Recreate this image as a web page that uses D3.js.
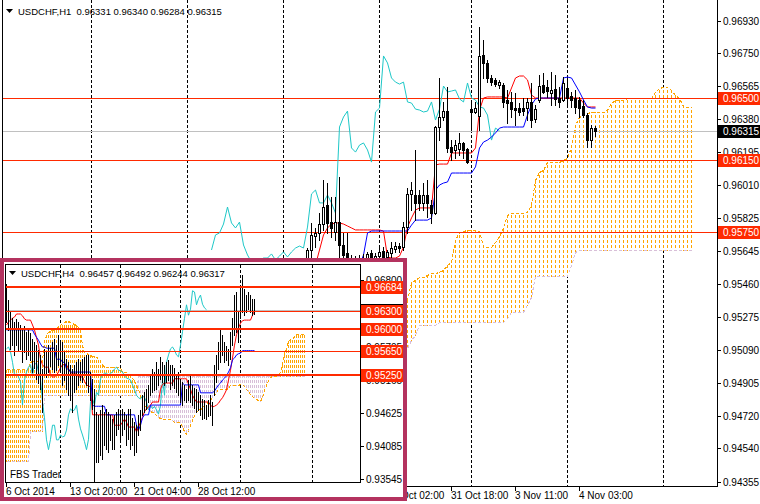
<!DOCTYPE html>
<html><head><meta charset="utf-8">
<script src="https://cdn.jsdelivr.net/npm/d3@7"></script>
<style>html,body{margin:0;padding:0;background:#fff;}svg{display:block;font-family:"Liberation Sans",Arial,sans-serif;}</style>
</head><body><svg id="chart" width="760" height="504"></svg>
<script>
// ================= MAIN CHART DATA (USDCHF, H1) =================
const mainTitle = "USDCHF,H1  0.96331 0.96340 0.96284 0.96315";
const mainOpen = [0.95582,0.95649,0.95727,0.95744,0.95794,0.95900,0.95805,0.95750,0.95805,0.95677,
0.95632,0.95582,0.95582,0.95593,0.95604,0.95582,0.95632,0.95593,0.95615,0.95643,
0.95610,0.95632,0.95654,0.95671,0.95665,0.95777,0.95962,0.95956,0.95956,0.95912,
0.95956,0.95900,0.95855,0.96336,0.96392,0.96425,0.96224,0.96208,0.96213,0.96247,
0.96213,0.96436,0.96420,0.96397,0.96738,0.96694,0.96610,0.96599,0.96571,0.96571,
0.96487,0.96476,0.96442,0.96442,0.96442,0.96442,0.96476,0.96381,0.96487,0.96571,
0.96560,0.96526,0.96548,0.96498,0.96487,0.96554,0.96509,0.96498,0.96487,0.96453,
0.96403,0.96263,0.96331];
const mainHigh = [0.95660,0.95800,0.95772,0.95855,0.96040,0.96023,0.95945,0.95945,0.96057,0.95744,
0.95744,0.95621,0.95615,0.95621,0.95627,0.95638,0.95649,0.95632,0.95660,0.95665,
0.95649,0.95693,0.95693,0.95688,0.95805,0.95995,0.96029,0.96208,0.95984,0.96023,
0.96040,0.95928,0.96342,0.96610,0.96476,0.96560,0.96263,0.96263,0.96303,0.96252,
0.96219,0.96476,0.96476,0.96895,0.96822,0.96710,0.96627,0.96610,0.96599,0.96582,
0.96543,0.96532,0.96526,0.96470,0.96498,0.96498,0.96582,0.96459,0.96627,0.96638,
0.96599,0.96643,0.96627,0.96560,0.96615,0.96610,0.96532,0.96543,0.96504,0.96487,
0.96414,0.96347,0.96340];
const mainLow = [0.95560,0.95610,0.95665,0.95705,0.95761,0.95744,0.95721,0.95705,0.95610,0.95582,
0.95548,0.95537,0.95548,0.95571,0.95565,0.95560,0.95571,0.95571,0.95593,0.95582,
0.95582,0.95593,0.95638,0.95638,0.95649,0.95744,0.95872,0.95816,0.95872,0.95872,
0.95833,0.95800,0.95850,0.96263,0.96375,0.96196,0.96152,0.96163,0.96180,0.96163,
0.96135,0.96319,0.96414,0.96319,0.96610,0.96587,0.96571,0.96565,0.96554,0.96448,
0.96358,0.96392,0.96347,0.96403,0.96403,0.96375,0.96336,0.96364,0.96476,0.96526,
0.96504,0.96459,0.96459,0.96448,0.96481,0.96448,0.96448,0.96414,0.96392,0.96392,
0.96224,0.96224,0.96284];
const mainClose = [0.95649,0.95733,0.95744,0.95794,0.95889,0.95800,0.95772,0.95805,0.95677,0.95621,
0.95582,0.95582,0.95593,0.95604,0.95604,0.95627,0.95593,0.95615,0.95638,0.95610,
0.95638,0.95660,0.95671,0.95660,0.95777,0.95962,0.95984,0.95912,0.95912,0.95956,
0.95912,0.95855,0.96336,0.96392,0.96425,0.96219,0.96196,0.96235,0.96247,0.96208,
0.96140,0.96420,0.96442,0.96733,0.96694,0.96610,0.96587,0.96576,0.96587,0.96476,
0.96470,0.96436,0.96431,0.96420,0.96425,0.96476,0.96375,0.96436,0.96565,0.96532,
0.96537,0.96543,0.96493,0.96476,0.96582,0.96498,0.96487,0.96448,0.96442,0.96403,
0.96263,0.96330,0.96315];
// Tenkan-sen from bar 2, Kijun-sen from bar 13, Senkou spans from bar 24
const mainTenkanStart = 2;
const mainTenkan = [0.95565,0.95649,0.95733,0.95772,0.95794,0.95800,0.95800,0.95794,0.95783,0.95772,
0.95761,0.95761,0.95761,0.95761,0.95761,0.95761,0.95761,0.95755,0.95610,0.95604,
0.95604,0.95615,0.95665,0.95777,0.95828,0.95872,0.95884,0.95884,0.95884,0.95884,
0.96124,0.96129,0.96129,0.96129,0.96191,0.96191,0.96191,0.96191,0.96191,0.96191,
0.96219,0.96431,0.96498,0.96504,0.96504,0.96504,0.96504,0.96504,0.96498,0.96554,
0.96610,0.96621,0.96621,0.96599,0.96515,0.96498,0.96498,0.96498,0.96498,0.96498,
0.96498,0.96498,0.96498,0.96498,0.96498,0.96498,0.96498,0.96470,0.96448,0.96448,0.96448];
const mainKijunStart = 13;
const mainKijun = [0.95565,0.95621,0.95744,0.95755,0.95755,0.95755,0.95755,0.95755,0.95755,0.95755,
0.95755,0.95755,0.95755,0.95788,0.95816,0.95816,0.95816,0.95816,0.95828,0.95984,
0.96012,0.96023,0.96029,0.96079,0.96079,0.96079,0.96079,0.96079,0.96079,0.96113,
0.96219,0.96252,0.96263,0.96280,0.96303,0.96330,0.96336,0.96336,0.96336,0.96336,
0.96336,0.96336,0.96403,0.96459,0.96493,0.96498,0.96498,0.96498,0.96498,0.96498,
0.96498,0.96610,0.96615,0.96610,0.96571,0.96532,0.96487,0.96448,0.96442,0.96442];
const mainChikouShift = 24;
const mainSpanStart = 24;
const mainSpanA = [0.95353,0.95369,0.95470,0.95481,0.95498,0.95498,0.95509,0.95520,0.95520,0.95526,
0.95537,0.95565,0.95582,0.95705,0.95750,0.95755,0.95761,0.95761,0.95761,0.95755,
0.95671,0.95665,0.95665,0.95693,0.95727,0.95772,0.95844,0.95855,0.95855,0.95855,
0.95855,0.95861,0.95900,0.96040,0.96085,0.96096,0.96140,0.96140,0.96140,0.96140,
0.96152,0.96163,0.96224,0.96347,0.96392,0.96403,0.96414,0.96420,0.96420,0.96420,
0.96420,0.96431,0.96470,0.96487,0.96487,0.96487,0.96498,0.96498,0.96498,0.96498,
0.96498,0.96498,0.96498,0.96532,0.96554,0.96560,0.96560,0.96543,0.96515,0.96498,
0.96453,0.96448,0.96448];
const mainSpanB = [0.95090,0.95101,0.95146,0.95174,0.95230,0.95230,0.95230,0.95230,0.95230,0.95246,
0.95246,0.95246,0.95246,0.95246,0.95246,0.95246,0.95246,0.95246,0.95246,0.95246,
0.95246,0.95246,0.95246,0.95246,0.95246,0.95246,0.95268,0.95302,0.95302,0.95302,
0.95302,0.95341,0.95386,0.95504,0.95504,0.95504,0.95504,0.95504,0.95504,0.95504,
0.95504,0.95504,0.95565,0.95638,0.95649,0.95649,0.95649,0.95649,0.95649,0.95649,
0.95649,0.95649,0.95649,0.95649,0.95649,0.95649,0.95649,0.95649,0.95649,0.95649,
0.95649,0.95649,0.95649,0.95649,0.95649,0.95649,0.95649,0.95649,0.95649,0.95649,
0.95649,0.95649,0.95649];
const mainPriceTicks = ["0.96930","0.96750","0.96565","0.96380","0.96195","0.96010","0.95825","0.95645","0.95460","0.95275","0.95090","0.94905","0.94720","0.94540","0.94355"];
const mainLevels = [0.96500, 0.96150, 0.95750];
const mainLevelLabels = ["0.96500","0.96150","0.95750"];
const mainBid = 0.96315, mainBidLabel = "0.96315";
const mainTimeBars = [20, 36, 52, 68];
const mainTimeLabels = ["30 Oct 02:00","31 Oct 18:00","3 Nov 11:00","4 Nov 03:00"];
const mainGridBars = [-54,-30,-6,18,41,65,89];

// ================= INSET CHART DATA (USDCHF, H4) =================
const insetTitle = "USDCHF,H4  0.96457 0.96492 0.96244 0.96317";
const insetStart = 3;
const insetHigh = [0.9674,0.9648,0.9628,0.9618,0.9612,0.9617,0.9612,0.9607,0.9600,0.9605,
0.9596,0.9600,0.9594,0.9584,0.9579,0.9574,0.9566,0.9558,0.9535,0.9568,
0.9563,0.9574,0.9569,0.9579,0.9584,0.9574,0.9591,0.9582,0.9579,0.9563,
0.9551,0.9546,0.9542,0.9535,0.9542,0.9546,0.9551,0.9546,0.9551,0.9555,
0.9558,0.9558,0.9530,0.9519,0.9502,0.9465,0.9460,0.9468,0.9476,0.9465,
0.9470,0.9465,0.9460,0.9453,0.9460,0.9465,0.9470,0.9465,0.9470,0.9465,
0.9460,0.9470,0.9470,0.9455,0.9448,0.9443,0.9460,0.9468,0.9492,0.9497,
0.9502,0.9509,0.9525,0.9535,0.9530,0.9546,0.9535,0.9555,0.9546,0.9542,
0.9546,0.9550,0.9542,0.9542,0.9537,0.9525,0.9530,0.9519,0.9514,0.9509,
0.9502,0.9517,0.9525,0.9509,0.9504,0.9502,0.9497,0.9492,0.9486,0.9484,
0.9476,0.9484,0.9492,0.9481,0.9542,0.9558,0.9579,0.9600,0.9591,0.9579,
0.9573,0.9568,0.9596,0.9618,0.9656,0.9661,0.9628,0.9672,0.9689,0.9666,
0.9656,0.9661,0.9656,0.9650,0.96492];
const insetLow = [0.9612,0.9599,0.9568,0.9574,0.9558,0.9574,0.9566,0.9568,0.9546,0.9563,
0.9551,0.9558,0.9550,0.9530,0.9537,0.9519,0.9512,0.9502,0.9465,0.9525,
0.9522,0.9530,0.9540,0.9535,0.9530,0.9533,0.9542,0.9530,0.9509,0.9517,
0.9502,0.9492,0.9484,0.9465,0.9497,0.9502,0.9509,0.9517,0.9514,0.9525,
0.9509,0.9497,0.9484,0.9470,0.9350,0.9383,0.9383,0.9394,0.9388,0.9411,
0.9404,0.9399,0.9419,0.9404,0.9404,0.9427,0.9437,0.9419,0.9427,0.9437,
0.9411,0.9420,0.9404,0.9411,0.9394,0.9399,0.9427,0.9435,0.9460,0.9465,
0.9470,0.9481,0.9492,0.9497,0.9501,0.9502,0.9509,0.9519,0.9514,0.9509,
0.9514,0.9517,0.9502,0.9509,0.9504,0.9497,0.9492,0.9481,0.9476,0.9484,
0.9481,0.9484,0.9481,0.9476,0.9471,0.9465,0.9468,0.9460,0.9453,0.9455,
0.9453,0.9458,0.9460,0.9443,0.9492,0.9514,0.9535,0.9546,0.9558,0.9546,
0.9550,0.9542,0.9551,0.9574,0.9591,0.9596,0.9579,0.9618,0.9628,0.9623,
0.9628,0.9633,0.9628,0.9623,0.96244];
const insetTenkan = [0.9607,0.9612,0.9615,0.9618,0.9620,0.9625,0.9625,0.9625,0.9622,0.9617,
0.9615,0.9615,0.9615,0.9607,0.9599,0.9586,0.9574,0.9551,0.9542,0.9538,
0.9538,0.9538,0.9525,0.9522,0.9522,0.9525,0.9530,0.9537,0.9542,0.9542,
0.9542,0.9535,0.9530,0.9527,0.9527,0.9527,0.9522,0.9522,0.9522,0.9515,
0.9509,0.9507,0.9506,0.9460,0.9460,0.9460,0.9460,0.9460,0.9460,0.9460,
0.9460,0.9460,0.9460,0.9460,0.9443,0.9443,0.9443,0.9443,0.9448,0.9453,
0.9448,0.9440,0.9440,0.9440,0.9440,0.9432,0.9440,0.9448,0.9456,0.9465,
0.9470,0.9473,0.9476,0.9481,0.9481,0.9481,0.9481,0.9502,0.9510,0.9512,
0.9512,0.9512,0.9512,0.9512,0.9519,0.9519,0.9519,0.9519,0.9519,0.9519,
0.9519,0.9510,0.9502,0.9492,0.9486,0.9481,0.9481,0.9481,0.9481,0.9481,
0.9481,0.9481,0.9476,0.9473,0.9474,0.9476,0.9479,0.9484,0.9488,0.9494,
0.9501,0.9517,0.9533,0.9553,0.9574,0.9591,0.9602,0.9610,0.9614,0.9615,
0.9615,0.9615,0.9615,0.9623,0.9630];
const insetKijun = [0.9599,0.9599,0.9599,0.9599,0.9599,0.9599,0.9599,0.9599,0.9599,0.9599,
0.9599,0.9599,0.9599,0.9599,0.9592,0.9587,0.9582,0.9576,0.9571,0.9571,
0.9569,0.9569,0.9569,0.9569,0.9569,0.9551,0.9551,0.9551,0.9546,0.9546,
0.9535,0.9535,0.9530,0.9530,0.9530,0.9530,0.9530,0.9530,0.9530,0.9530,
0.9530,0.9530,0.9530,0.9476,0.9474,0.9474,0.9474,0.9474,0.9474,0.9474,
0.9460,0.9460,0.9460,0.9460,0.9460,0.9460,0.9460,0.9460,0.9460,0.9460,
0.9460,0.9460,0.9460,0.9460,0.9460,0.9443,0.9435,0.9443,0.9455,0.9460,
0.9460,0.9460,0.9476,0.9476,0.9476,0.9476,0.9476,0.9476,0.9476,0.9476,
0.9476,0.9476,0.9476,0.9476,0.9476,0.9476,0.9476,0.9476,0.9512,0.9509,
0.9509,0.9509,0.9509,0.9509,0.9509,0.9509,0.9509,0.9496,0.9496,0.9496,
0.9496,0.9496,0.9496,0.9496,0.9499,0.9504,0.9509,0.9512,0.9517,0.9520,
0.9524,0.9530,0.9537,0.9550,0.9553,0.9558,0.9560,0.9561,0.9565,0.9565,
0.9565,0.9565,0.9565,0.9565,0.9565];
const insetChikou = [0.9568,0.9571,0.9563,0.9546,0.9525,0.9527,0.9522,0.9514,0.9476,0.9517,
0.9530,0.9538,0.9542,0.9525,0.9542,0.9545,0.9530,0.9519,0.9481,0.9455,
0.9419,0.9403,0.9420,0.9443,0.9443,0.9419,0.9419,0.9427,0.9424,0.9425,
0.9435,0.9460,0.9470,0.9466,0.9468,0.9476,0.9453,0.9437,0.9427,0.9416,
0.9403,0.9420,0.9481,0.9486,0.9476,0.9497,0.9492,0.9519,0.9525,0.9528,
0.9528,0.9525,0.9528,0.9530,0.9535,0.9538,0.9533,0.9532,0.9530,0.9524,
0.9520,0.9519,0.9517,0.9509,0.9501,0.9492,0.9488,0.9486,0.9491,0.9488,
0.9481,0.9468,0.9476,0.9470,0.9474,0.9468,0.9461,0.9476,0.9517,0.9492,
0.9546,0.9558,0.9568,0.9571,0.9566,0.9558,0.9555,0.9574,0.9596,0.9618,
0.9640,0.9623,0.9633,0.9663,0.9661,0.9640,0.9650,0.9656,0.9641,0.9635,0.9632];
const insetSpanA = [0.9535,0.9535,0.9535,0.9535,0.9535,0.9535,0.9535,0.9535,0.9535,0.9535,
0.9535,0.9535,0.9546,0.9548,0.9548,0.9548,0.9548,0.9548,0.9548,0.9582,
0.9591,0.9596,0.9597,0.9599,0.9600,0.9602,0.9605,0.9607,0.9610,0.9612,
0.9614,0.9614,0.9612,0.9610,0.9608,0.9607,0.9604,0.9599,0.9574,0.9563,
0.9561,0.9560,0.9558,0.9556,0.9556,0.9555,0.9553,0.9550,0.9542,0.9540,
0.9538,0.9538,0.9538,0.9538,0.9538,0.9538,0.9538,0.9537,0.9532,0.9530,
0.9530,0.9527,0.9524,0.9520,0.9517,0.9509,0.9502,0.9491,0.9484,0.9476,
0.9473,0.9470,0.9466,0.9465,0.9463,0.9460,0.9456,0.9455,0.9453,0.9453,
0.9453,0.9453,0.9453,0.9452,0.9448,0.9448,0.9448,0.9448,0.9440,0.9434,
0.9429,0.9435,0.9443,0.9452,0.9460,0.9465,0.9468,0.9470,0.9471,0.9476,
0.9479,0.9481,0.9484,0.9489,0.9492,0.9497,0.9502,0.9502,0.9502,0.9502,
0.9502,0.9504,0.9509,0.9509,0.9509,0.9509,0.9509,0.9510,0.9510,0.9507,
0.9502,0.9499,0.9494,0.9491,0.9488,0.9486,0.9484,0.9483,0.9489,0.9501,
0.9509,0.9517,0.9522,0.9524,0.9524,0.9525,0.9527,0.9530,0.9546,0.9563,
0.9568,0.9581,0.9584,0.9584,0.9589,0.9592,0.9592,0.9592,0.9592,0.9592];
const insetSpanB = [0.9385,0.9385,0.9385,0.9385,0.9385,0.9385,0.9385,0.9385,0.9385,0.9385,
0.9385,0.9385,0.9434,0.9434,0.9434,0.9434,0.9434,0.9434,0.9434,0.9492,
0.9492,0.9492,0.9492,0.9492,0.9492,0.9492,0.9492,0.9492,0.9492,0.9492,
0.9492,0.9492,0.9492,0.9492,0.9492,0.9492,0.9492,0.9492,0.9492,0.9492,
0.9492,0.9492,0.9492,0.9492,0.9492,0.9492,0.9492,0.9492,0.9492,0.9492,
0.9492,0.9492,0.9492,0.9492,0.9492,0.9492,0.9492,0.9492,0.9492,0.9492,
0.9492,0.9492,0.9492,0.9492,0.9492,0.9492,0.9524,0.9524,0.9524,0.9524,
0.9524,0.9524,0.9524,0.9524,0.9524,0.9524,0.9524,0.9524,0.9524,0.9524,
0.9524,0.9524,0.9524,0.9524,0.9524,0.9524,0.9524,0.9524,0.9524,0.9524,
0.9524,0.9524,0.9524,0.9524,0.9524,0.9524,0.9524,0.9524,0.9524,0.9524,
0.9524,0.9524,0.9524,0.9524,0.9524,0.9524,0.9524,0.9524,0.9524,0.9524,
0.9524,0.9524,0.9524,0.9524,0.9524,0.9524,0.9524,0.9524,0.9524,0.9524,
0.9524,0.9524,0.9524,0.9524,0.9524,0.9524,0.9524,0.9524,0.9524,0.9524,
0.9524,0.9524,0.9524,0.9524,0.9524,0.9524,0.9524,0.9524,0.9524,0.9524,
0.9524,0.9524,0.9524,0.9524,0.9524,0.9524,0.9524,0.9524,0.9524,0.9524];
const insetPriceTicks = ["0.96800","0.95705","0.95165","0.94625","0.94085","0.93545"];
const insetLevels = [0.96684, 0.96300, 0.96000, 0.95650, 0.95250];
const insetLevelLabels = ["0.96684","0.96300","0.96000","0.95650","0.95250"];
const insetBid = 0.96317;
const insetTimeBars = [3, 35, 67, 99];
const insetTimeLabels = ["6 Oct 2014","13 Oct 20:00","21 Oct 04:00","28 Oct 12:00"];
const insetGridBars = [30, 60, 90, 120, 156];
const insetBrand = "FBS Trader";

// ================= STYLE =================
const RED = "#ff2a00", ORANGE = "#ffa500", THISTLE = "#d8bfd8", CYAN = "#1ec8c8", BLUE = "#0000ff", TENKAN = "#ff0000";
const FRAME = "#b4325f";
const FONT = 10, TITLE_FONT = 9.5;
const insetThick = [true, false, true, false, true];

const svg = d3.select("#chart");
svg.append("rect").attr("width",760).attr("height",504).attr("fill","#fff");
const defs = svg.append("defs");

// ================= MAIN =================
const xM = d3.scaleLinear().domain([0,72]).range([307,595]);
const yM = d3.scaleLinear().domain([0.94355,0.96930]).range([481.6,20.7]);
const colM = i => Math.round(xM(i));
defs.append("clipPath").attr("id","clipM").append("rect").attr("x",3).attr("y",0).attr("width",714).attr("height",486);
const gM = svg.append("g").attr("clip-path","url(#clipM)");

gM.selectAll("line.vg").data(mainGridBars).join("line").attr("class","vg")
  .attr("x1",d=>colM(d)+0.5).attr("x2",d=>colM(d)+0.5).attr("y1",0).attr("y2",486)
  .attr("stroke","#000").attr("stroke-dasharray","3,2").attr("shape-rendering","crispEdges");

function hatch(g, spanA, spanB, start, col, yS){
  const data = spanA.map((a,k)=>({i:k+start, a, b:spanB[k]}));
  g.append("g").attr("shape-rendering","crispEdges").selectAll("line").data(data).join("line")
    .each(function(d){
      const ya=Math.round(yS(d.a)), yb=Math.round(yS(d.b));
      const t=Math.min(ya,yb), b=Math.max(ya,yb);
      d3.select(this).attr("x1",col(d.i)+0.5).attr("x2",col(d.i)+0.5).attr("y1",t).attr("y2",b+1)
        .attr("stroke", d.a>=d.b?ORANGE:THISTLE).attr("stroke-dasharray","3,2").attr("stroke-dashoffset", ((t%5)+5)%5);
    });
  const lineA = d3.line().x(d=>col(d.i)+0.5).y(d=>Math.round(yS(d.a))+0.5);
  const lineB = d3.line().x(d=>col(d.i)+0.5).y(d=>Math.round(yS(d.b))+0.5);
  g.append("path").attr("d",lineB(data)).attr("fill","none").attr("stroke",THISTLE).attr("stroke-dasharray","3,2").attr("shape-rendering","crispEdges");
  g.append("path").attr("d",lineA(data)).attr("fill","none").attr("stroke",ORANGE).attr("stroke-dasharray","3,2").attr("shape-rendering","crispEdges");
}
hatch(gM, mainSpanA, mainSpanB, mainSpanStart, colM, yM);

gM.selectAll("line.lv").data(mainLevels).join("line").attr("class","lv")
  .attr("x1",3).attr("x2",717).attr("y1",d=>Math.round(yM(d))+0.5).attr("y2",d=>Math.round(yM(d))+0.5)
  .attr("stroke",RED).attr("shape-rendering","crispEdges");
gM.append("line").attr("x1",3).attr("x2",717).attr("y1",Math.round(yM(mainBid))+0.5).attr("y2",Math.round(yM(mainBid))+0.5)
  .attr("stroke","#c0c0c0").attr("shape-rendering","crispEdges");

function seriesLine(g, vals, start, col, yS, color){
  const pts = vals.map((v,k)=>[col(k+start)+0.5, yS(v)]);
  g.append("path").attr("d", d3.line()(pts)).attr("fill","none").attr("stroke",color).attr("stroke-width",1);
}
seriesLine(gM, mainClose, -mainChikouShift, colM, yM, CYAN);
seriesLine(gM, mainTenkan, mainTenkanStart, colM, yM, TENKAN);
seriesLine(gM, mainKijun, mainKijunStart, colM, yM, BLUE);

const candles = mainOpen.map((o,i)=>({i,o,h:mainHigh[i],l:mainLow[i],c:mainClose[i]}));
const gC = gM.append("g").attr("shape-rendering","crispEdges");
gC.selectAll("line").data(candles).join("line")
  .attr("x1",d=>colM(d.i)+0.5).attr("x2",d=>colM(d.i)+0.5)
  .attr("y1",d=>Math.round(yM(d.h))).attr("y2",d=>Math.round(yM(d.l))+1).attr("stroke","#000");
gC.selectAll("rect").data(candles).join("rect")
  .attr("x",d=>colM(d.i)-0.5).attr("width",2)
  .attr("y",d=>Math.round(yM(Math.max(d.o,d.c)))+0.5)
  .attr("height",d=>Math.max(0,Math.round(yM(Math.min(d.o,d.c)))-Math.round(yM(Math.max(d.o,d.c)))))
  .attr("fill",d=>d.c>d.o?"#fff":"#000").attr("stroke","#000");

const fr = svg.append("g").attr("shape-rendering","crispEdges").attr("stroke","#000");
fr.append("line").attr("x1",2.5).attr("x2",2.5).attr("y1",0).attr("y2",487);
fr.append("line").attr("x1",717.5).attr("x2",717.5).attr("y1",0).attr("y2",487);
fr.append("line").attr("x1",2).attr("x2",718).attr("y1",486.5).attr("y2",486.5);

const ax = svg.append("g").attr("font-size",FONT);
mainPriceTicks.forEach(t=>{
  const y = Math.round(yM(+t));
  ax.append("line").attr("x1",718).attr("x2",721).attr("y1",y+0.5).attr("y2",y+0.5).attr("stroke","#000").attr("shape-rendering","crispEdges");
  ax.append("text").attr("x",723).attr("y",y+4).text(t);
});
function priceBox(g, v, label, yS, x0, w, bg){
  const y = Math.round(yS(v));
  g.append("rect").attr("x",x0).attr("y",y-6).attr("width",w).attr("height",13).attr("fill",bg);
  if (label) g.append("text").attr("x",x0+5).attr("y",y+4).attr("fill","#fff").attr("font-size",FONT).text(label);
}
mainLevels.forEach((v,k)=>priceBox(ax, v, mainLevelLabels[k], yM, 718, 42, RED));
priceBox(ax, mainBid, mainBidLabel, yM, 718, 42, "#000");

mainTimeBars.forEach((b,k)=>{
  const x = colM(b);
  ax.append("line").attr("x1",x+0.5).attr("x2",x+0.5).attr("y1",487).attr("y2",491).attr("stroke","#000").attr("shape-rendering","crispEdges");
  ax.append("text").attr("x",x).attr("y",499).text(mainTimeLabels[k]);
});

svg.append("path").attr("d","M6,9 L13,9 L9.5,13 Z").attr("fill","#000");
svg.append("text").attr("x",18).attr("y",15).attr("font-size",TITLE_FONT).style("white-space","pre").text(mainTitle);

// ================= INSET =================
const gI0 = svg.append("g");
gI0.append("rect").attr("x",0).attr("y",258).attr("width",407).attr("height",243).attr("fill",FRAME);
gI0.append("rect").attr("x",4).attr("y",262).attr("width",399).attr("height",235).attr("fill","#fff");

const xI = d3.scaleLinear().domain([0,127]).range([0,254]);
const yI = d3.scaleLinear().domain([0.93545,0.94625]).range([479.3,413.3]);
const colI = j => Math.round(xI(j));
defs.append("clipPath").attr("id","clipI").append("rect").attr("x",6).attr("y",265).attr("width",354).attr("height",217);
const gI = svg.append("g").attr("clip-path","url(#clipI)");

gI.selectAll("line.vg").data(insetGridBars).join("line").attr("class","vg")
  .attr("x1",d=>colI(d)+0.5).attr("x2",d=>colI(d)+0.5).attr("y1",265).attr("y2",483)
  .attr("stroke","#000").attr("stroke-dasharray","3,2").attr("shape-rendering","crispEdges");

hatch(gI, insetSpanA, insetSpanB, insetStart, colI, yI);

gI.append("line").attr("x1",6).attr("x2",360).attr("y1",Math.round(yI(insetBid))+0.5).attr("y2",Math.round(yI(insetBid))+0.5)
  .attr("stroke","#c0c0c0").attr("shape-rendering","crispEdges");

seriesLine(gI, insetChikou, insetStart, colI, yI, CYAN);
seriesLine(gI, insetTenkan, insetStart, colI, yI, TENKAN);
seriesLine(gI, insetKijun, insetStart, colI, yI, BLUE);

const bars = insetHigh.map((h,k)=>({j:k+insetStart,h,l:insetLow[k]}));
gI.append("g").attr("shape-rendering","crispEdges").selectAll("line").data(bars).join("line")
  .attr("x1",d=>colI(d.j)+0.5).attr("x2",d=>colI(d.j)+0.5)
  .attr("y1",d=>Math.round(yI(d.h))).attr("y2",d=>Math.round(yI(d.l))+1).attr("stroke","#000");

insetLevels.forEach((v,k)=>{
  const y = Math.round(yI(v));
  gI.append("line").attr("x1",6).attr("x2",360).attr("y1",insetThick[k]?y:y+0.5).attr("y2",insetThick[k]?y:y+0.5)
    .attr("stroke",RED).attr("stroke-width",insetThick[k]?2:1).attr("shape-rendering","crispEdges");
});

const fi = svg.append("g").attr("stroke","#000").attr("shape-rendering","crispEdges");
fi.append("line").attr("x1",5.5).attr("x2",5.5).attr("y1",264).attr("y2",483);
fi.append("line").attr("x1",360.5).attr("x2",360.5).attr("y1",264).attr("y2",483);
fi.append("line").attr("x1",5).attr("x2",361).attr("y1",264.5).attr("y2",264.5);
fi.append("line").attr("x1",5).attr("x2",361).attr("y1",482.5).attr("y2",482.5);

const axI = svg.append("g").attr("font-size",FONT);
insetPriceTicks.forEach(t=>{
  const y = Math.round(yI(+t));
  axI.append("line").attr("x1",361).attr("x2",364).attr("y1",y+0.5).attr("y2",y+0.5).attr("stroke","#000").attr("shape-rendering","crispEdges");
  axI.append("text").attr("x",366).attr("y",y+4).text(t);
});
priceBox(axI, insetBid, null, yI, 361, 42, "#000");
insetLevels.forEach((v,k)=>priceBox(axI, v, insetLevelLabels[k], yI, 361, 42, RED));

insetTimeBars.forEach((b,k)=>{
  const x = colI(b);
  axI.append("line").attr("x1",x+0.5).attr("x2",x+0.5).attr("y1",483).attr("y2",487).attr("stroke","#000").attr("shape-rendering","crispEdges");
  axI.append("text").attr("x",x).attr("y",495).text(insetTimeLabels[k]);
});

svg.append("path").attr("d","M9,271 L16,271 L12.5,275 Z").attr("fill","#000");
svg.append("text").attr("x",21).attr("y",277).attr("font-size",TITLE_FONT).style("white-space","pre").text(insetTitle);
svg.append("text").attr("x",10).attr("y",478).attr("font-size",FONT).text(insetBrand);
</script></body></html>
